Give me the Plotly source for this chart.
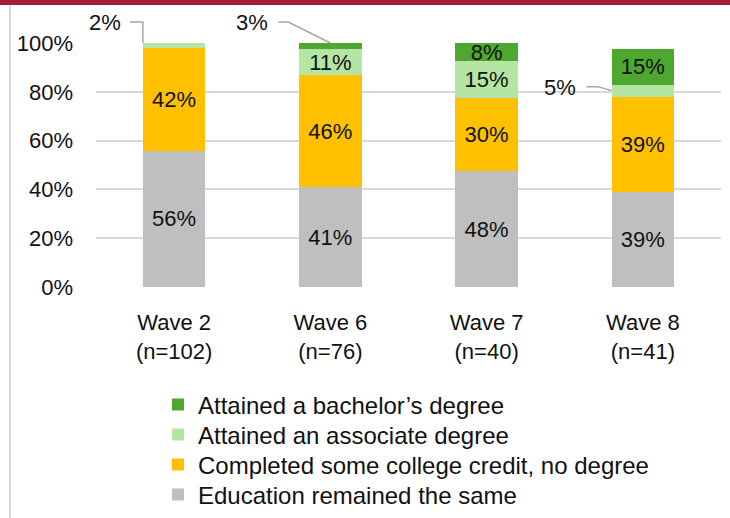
import plotly.graph_objects as go

# ---- data ----
waves = ["Wave 2", "Wave 6", "Wave 7", "Wave 8"]
sample_sizes = ["n=102", "n=76", "n=40", "n=41"]
series_names = [
    "Education remained the same",
    "Completed some college credit, no degree",
    "Attained an associate degree",
    "Attained a bachelor\u2019s degree",
]
same_vals = [55.88, 40.79, 47.5, 39.02]
some_college_vals = [42.16, 46.05, 30.0, 39.02]
associate_vals = [1.96, 10.53, 15.0, 4.88]
bachelor_vals = [0.0, 2.63, 7.5, 14.63]
y_ticks = [0, 20, 40, 60, 80, 100]
y_tick_labels = ["0%", "20%", "40%", "60%", "80%", "100%"]

series_vals = [same_vals, some_college_vals, associate_vals, bachelor_vals]
colors = ["#BFBFBF", "#FFC000", "#B4E5A2", "#4EA72E"]

FONT = "Liberation Sans, Arial, sans-serif"
BAR_W = 0.4
MIN_INSIDE = 6  # segments smaller than this get callouts instead of inside labels
Y_MAX = 100

W, H = 730, 518
ML, MR, MT, MB = 96, 9, 43, 231
PLOT_H = H - MT - MB
PLOT_W = W - ML - MR


def pct(v):
    return f"{int(v + 0.5)}%"


xpos = list(range(len(waves)))
ticktext = [f"{w}<br>({n})" for w, n in zip(waves, sample_sizes)]

# legend rows (page px centres), top row = last series
LEGEND_ROW_TOP = 405
LEGEND_ROW_GAP = 30
LEGEND_LEFT = 158

fig = go.Figure()
n_series = len(series_names)
legend_layouts = {}
for k, (name, vals, col) in enumerate(zip(series_names, series_vals, colors)):
    txt = [pct(v) if v >= MIN_INSIDE else "" for v in vals]
    lg = "legend" if k == 0 else f"legend{k + 1}"
    fig.add_trace(go.Bar(
        x=xpos, y=vals, name=name, width=BAR_W,
        marker=dict(color=col, line=dict(width=0)),
        text=txt, textposition="inside", insidetextanchor="middle",
        textangle=0, textfont=dict(family=FONT, size=22, color="#111111"),
        legend=lg,
    ))
    row = n_series - 1 - k
    yc = LEGEND_ROW_TOP + row * LEGEND_ROW_GAP
    legend_layouts[lg] = dict(
        x=(LEGEND_LEFT - ML) / PLOT_W, y=(H - MB - yc) / PLOT_H,
        xanchor="left", yanchor="middle",
        font=dict(family=FONT, size=24, color="#111111"),
        bgcolor="rgba(0,0,0,0)", borderwidth=0,
    )


def cum_top(idx, series_idx):
    return sum(series_vals[s][idx] for s in range(series_idx + 1))


callouts = [
    # (bar index, series index, anchor x offset in bar widths, anchor 'top'/'mid', leader path px, text shift px)
    (0, 2, -0.5, "top", "M0,0 L0,21 L-13,21", (-38, 21)),
    (1, 3, 0.0, "top", "M0,0 L-42,21 L-52,21", (-78, 21)),
    (3, 2, -0.5, "mid", "M0,0 L-14,4 L-25,4", (-52, 3)),
]
for bi, si, xo, where, path, (dx, dy) in callouts:
    top = cum_top(bi, si)
    ya = top if where == "top" else top - series_vals[si][bi] / 2
    ya = min(ya, Y_MAX)
    xa = xpos[bi] + xo * BAR_W
    fig.add_shape(type="path", xref="x", yref="paper", xsizemode="pixel", ysizemode="pixel",
                  xanchor=xa, yanchor=ya / Y_MAX, path=path,
                  line=dict(color="#A6A6A6", width=1.5))
    fig.add_annotation(x=xa, y=ya, xref="x", yref="y", xshift=dx, yshift=dy,
                       text=pct(series_vals[si][bi]), showarrow=False,
                       font=dict(family=FONT, size=22, color="#111111"))

# red top band
fig.add_shape(type="rect", xref="paper", yref="paper",
              x0=-ML / PLOT_W, x1=1 + MR / PLOT_W,
              y0=1 + (MT - 5) / PLOT_H, y1=1 + MT / PLOT_H,
              fillcolor="#A51C36", line=dict(width=0), layer="above")
# left grey rule
fig.add_shape(type="line", xref="paper", yref="paper",
              x0=-(ML - 10) / PLOT_W, x1=-(ML - 10) / PLOT_W,
              y0=-MB / PLOT_H, y1=1 + (MT - 5) / PLOT_H,
              line=dict(color="#D9D9D9", width=2))

fig.update_layout(
    width=W, height=H,
    margin=dict(l=ML, r=MR, t=MT, b=MB, autoexpand=False),
    paper_bgcolor="white", plot_bgcolor="white",
    barmode="stack", bargap=0.6,
    font=dict(family=FONT, size=22, color="#111111"),
    uniformtext=dict(mode="show", minsize=22),
    showlegend=True,
    xaxis=dict(
        range=[-0.5, len(waves) - 0.5], tickvals=xpos, ticktext=ticktext,
        showgrid=False, zeroline=False, showline=False, ticks="",
        ticklabelstandoff=20,
        tickfont=dict(family=FONT, size=22, color="#111111"),
    ),
    yaxis=dict(
        range=[0, Y_MAX], tickvals=y_ticks, ticktext=y_tick_labels,
        showgrid=True, gridcolor="#D9D9D9", gridwidth=2,
        zeroline=False, showline=False, ticks="",
        ticklabelstandoff=22,
        tickfont=dict(family=FONT, size=22, color="#111111"),
    ),
    **legend_layouts,
)

fig.write_html(
    "out.html",
    config={"displayModeBar": False},
    post_script="document.body.style.margin='0px';document.body.style.overflow='hidden';",
)
